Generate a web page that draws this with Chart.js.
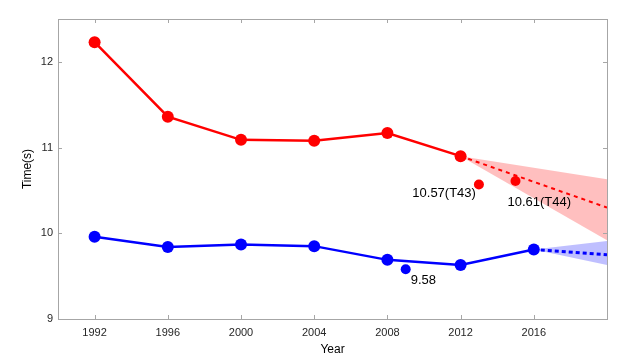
<!DOCTYPE html>
<html>
<head>
<meta charset="utf-8">
<script src="https://cdn.jsdelivr.net/npm/chart.js@4"></script>
<style>
  body { margin: 0; background: #fff; }
  canvas { display: block; }
</style>
</head>
<body>
<canvas id="SprintChart" width="625" height="358"></canvas>
<script>
const years = [1992, 1996, 2000, 2004, 2008, 2012, 2016];
const para_times = [12.23, 11.36, 11.09, 11.08, 11.17, 10.90];
const olympic_times = [9.96, 9.84, 9.87, 9.85, 9.69, 9.63, 9.81];

// forecast: start point and end year, with upper / lower bounds
const para_trend_years = [2012, 2020];
const para_trend = [10.90, 10.30];
const para_upper = [10.90, 10.63];
const para_lower = [10.90, 9.92];

const olympic_trend_years = [2016, 2020];
const olympic_trend = [9.81, 9.75];
const olympic_upper = [9.81, 9.91];
const olympic_lower = [9.81, 9.63];

const para_extra_years = [2013, 2015];
const para_extra_times = [10.57, 10.61];
const para_extra_labels = ['10.57(T43)', '10.61(T44)'];
const olympic_extra_years = [2009];
const olympic_extra_times = [9.58];
const olympic_extra_labels = ['9.58'];

const x_ticks = [1992, 1996, 2000, 2004, 2008, 2012, 2016];
const y_ticks = [9, 10, 11, 12];

const toPoints = (xs, ys) => ys.map((y, i) => ({x: xs[i], y: y}));

const RED = 'rgb(255, 0, 0)';
const BLUE = 'rgb(0, 0, 255)';
const AXIS_GRAY = '#a6a6a6';

// label offsets from their point (pixels), kept apart from the data
const label_style = [
    {align: 'right', dx: -3, dy: 9},   // 10.57(T43)
    {align: 'left', dx: -8, dy: 21},   // 10.61(T44)
    {align: 'left', dx: 5, dy: 11}     // 9.58
];

const boxPlugin = {
    id: 'boxPlugin',
    afterDatasetsDraw(chart) {
        const {ctx, chartArea: a, scales: {x, y}} = chart;
        ctx.save();
        ctx.strokeStyle = AXIS_GRAY;
        ctx.lineWidth = 1;
        ctx.strokeRect(Math.round(a.left) + 0.5, Math.round(a.top) + 0.5,
            Math.round(a.right - a.left), Math.round(a.bottom - a.top));
        ctx.beginPath();
        x_ticks.forEach(v => {
            const px = Math.round(x.getPixelForValue(v)) + 0.5;
            ctx.moveTo(px, a.bottom); ctx.lineTo(px, a.bottom - 4);
            ctx.moveTo(px, a.top); ctx.lineTo(px, a.top + 4);
        });
        y_ticks.forEach(v => {
            const py = Math.round(y.getPixelForValue(v)) + 0.5;
            ctx.moveTo(a.left, py); ctx.lineTo(a.left + 4, py);
            ctx.moveTo(a.right, py); ctx.lineTo(a.right - 4, py);
        });
        ctx.stroke();

        // point labels
        const labels = para_extra_labels.map((t, i) => ({t: t, x: para_extra_years[i], y: para_extra_times[i]}))
            .concat(olympic_extra_labels.map((t, i) => ({t: t, x: olympic_extra_years[i], y: olympic_extra_times[i]})));
        ctx.fillStyle = '#000';
        ctx.font = '13px "Liberation Sans", Arial, sans-serif';
        ctx.textBaseline = 'middle';
        labels.forEach((l, i) => {
            const s = label_style[i];
            ctx.textAlign = s.align;
            ctx.fillText(l.t, x.getPixelForValue(l.x) + s.dx, y.getPixelForValue(l.y) + s.dy);
        });
        ctx.restore();
    }
};

const sprint_data = {
    datasets: [
        {
            label: 'Paralympic',
            data: toPoints(years, para_times),
            borderColor: RED,
            backgroundColor: RED,
            borderWidth: 2.5,
            pointRadius: 6,
            pointBorderWidth: 0,
            fill: false
        },
        {
            label: 'Olympic',
            data: toPoints(years, olympic_times),
            borderColor: BLUE,
            backgroundColor: BLUE,
            borderWidth: 2.5,
            pointRadius: 6,
            pointBorderWidth: 0,
            fill: false
        },
        {
            label: 'Paralympic extra',
            data: toPoints(para_extra_years, para_extra_times),
            showLine: false,
            backgroundColor: RED,
            borderColor: RED,
            pointRadius: 5,
            pointBorderWidth: 0
        },
        {
            label: 'Olympic extra',
            data: toPoints(olympic_extra_years, olympic_extra_times),
            showLine: false,
            backgroundColor: BLUE,
            borderColor: BLUE,
            pointRadius: 5,
            pointBorderWidth: 0
        },
        {
            label: 'Paralympic trend',
            data: toPoints(para_trend_years, para_trend),
            borderColor: RED,
            borderWidth: 2,
            borderDash: [4, 4],
            pointRadius: 0,
            fill: false
        },
        {
            label: 'Olympic trend',
            data: toPoints(olympic_trend_years, olympic_trend),
            borderColor: BLUE,
            borderWidth: 3,
            borderDash: [4, 3],
            pointRadius: 0,
            fill: false
        },
        {
            label: 'Paralympic upper',
            data: toPoints(para_trend_years, para_upper),
            borderWidth: 0,
            pointRadius: 0,
            fill: false
        },
        {
            label: 'Paralympic lower',
            data: toPoints(para_trend_years, para_lower),
            borderWidth: 0,
            pointRadius: 0,
            backgroundColor: 'rgba(255, 0, 0, 0.25)',
            fill: '-1'
        },
        {
            label: 'Olympic upper',
            data: toPoints(olympic_trend_years, olympic_upper),
            borderWidth: 0,
            pointRadius: 0,
            fill: false
        },
        {
            label: 'Olympic lower',
            data: toPoints(olympic_trend_years, olympic_lower),
            borderWidth: 0,
            pointRadius: 0,
            backgroundColor: 'rgba(0, 0, 255, 0.25)',
            fill: '-1'
        }
    ]
};

const configSprint = {
    type: 'line',
    data: sprint_data,
    options: {
        responsive: false,
        animation: false,
        layout: {
            padding: {left: 0, right: 18, top: 19, bottom: 0}
        },
        plugins: {
            legend: {display: false},
            tooltip: {enabled: false}
        },
        scales: {
            x: {
                type: 'linear',
                min: 1990,
                max: 2020,
                afterBuildTicks: scale => { scale.ticks = x_ticks.map(v => ({value: v})); },
                afterFit: scale => { scale.height = 39; },
                grid: {display: false, drawTicks: false},
                border: {display: false},
                ticks: {
                    padding: 7,
                    color: '#262626',
                    font: {family: '"Liberation Sans", Arial, sans-serif', size: 11},
                    callback: v => String(v)
                },
                title: {
                    display: true,
                    text: 'Year',
                    color: '#000',
                    padding: {top: 0, bottom: 1},
                    font: {family: '"Liberation Sans", Arial, sans-serif', size: 12}
                }
            },
            y: {
                min: 9,
                max: 12.5,
                afterBuildTicks: scale => { scale.ticks = y_ticks.map(v => ({value: v})); },
                afterFit: scale => { scale.width = 58; },
                grid: {display: false, drawTicks: false},
                border: {display: false},
                ticks: {
                    padding: 5,
                    color: '#262626',
                    font: {family: '"Liberation Sans", Arial, sans-serif', size: 11}
                },
                title: {
                    display: true,
                    text: 'Time(s)',
                    color: '#000',
                    padding: {top: 20, bottom: 0},
                    font: {family: '"Liberation Sans", Arial, sans-serif', size: 12}
                }
            }
        }
    },
    plugins: [boxPlugin]
};

const SprintChart = new Chart(
    document.getElementById('SprintChart'),
    configSprint
);
</script>
</body>
</html>
